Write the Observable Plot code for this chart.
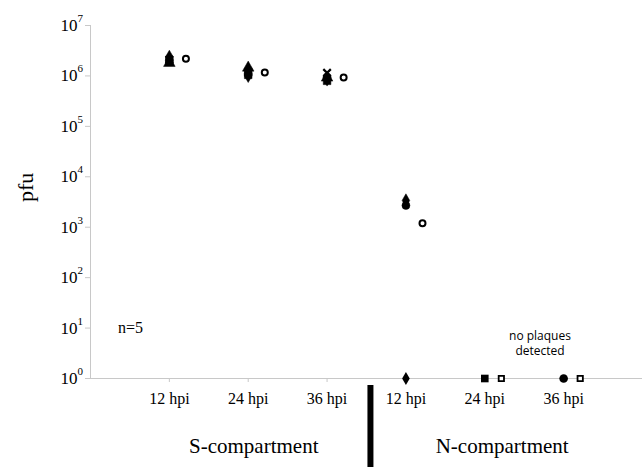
<!DOCTYPE html>
<html><head><meta charset="utf-8">
<script src="https://cdn.jsdelivr.net/npm/d3@7"></script>
<script src="https://cdn.jsdelivr.net/npm/@observablehq/plot@0.6"></script>
<style>body{margin:0;background:#fff}</style>
</head><body><div id="chart"></div>
<script>
// ---- data ----
const categories = ["12 hpi", "24 hpi", "36 hpi", "12 hpi", "24 hpi", "36 hpi"];
const groups = ["S-compartment", "N-compartment"];
// individual replicates (pfu)
const repDiamond  = [2.4e6, 1.0e6, 0.85e6, 3.4e3, null, null];
const repSquare   = [2.0e6, 1.05e6, 0.8e6, null, null, null];
const repTriangle = [1.8e6, 1.45e6, 0.92e6, null, null, null];
const repCross    = [2.1e6, 1.2e6, 1.15e6, null, null, null];
const repCircle   = [2.0e6, 1.1e6, 0.95e6, 2.7e3, null, null];
// replicates with no plaques detected, shown at the floor (1)
const notDetected = [null, null, null, 1, 1, 1];
// mean of the five replicates
const means = [2.2e6, 1.17e6, 0.93e6, 1.2e3, 1, 1];
const yExponents = [0, 1, 2, 3, 4, 5, 6, 7];
const yLabel = "pfu";
const nLabel = "n=5";
const annotation = "no plaques\ndetected";

// ---- layout ----
const serif = "Liberation Serif, serif";
const sans = "Open Sans, Noto Sans, sans-serif";
const slot = categories.map((c, i) => i + 1);
const groupCenter = [2.07, 5.22];
const ndSymbols = [null, null, null, "diamond", "square", "circle"];
const reps = [
  {symbol: "triangle", values: repTriangle, r: 4.3},
  {symbol: "diamond", values: repDiamond, r: 4},
  {symbol: "square", values: repSquare, r: 4.3},
  {symbol: "times", values: repCross, r: 3.5},
  {symbol: "circle", values: repCircle, r: 4}
];
const rowsOf = vals => vals.map((v, i) => v == null ? null : {x: slot[i], value: v, i}).filter(Boolean);
const meanRows = means.map((v, i) => ({x: slot[i] + 0.21, value: v}));
const ndRows = rowsOf(notDetected);

const txt = (data, opts) => Plot.text(data, {fontFamily: serif, fill: "black", ...opts});

const plot = Plot.plot({
  width: 642, height: 467,
  marginLeft: 90, marginRight: 0, marginTop: 25, marginBottom: 89,
  style: {fontFamily: serif, background: "white", color: "black", overflow: "visible"},
  x: {domain: [0, 7], axis: null},
  y: {type: "log", domain: [1, 1e7], axis: null},
  marks: [
    Plot.ruleX([0], {stroke: "#c8c8c8"}),
    Plot.ruleY([1], {stroke: "#c8c8c8"}),
    Plot.axisY({ticks: yExponents.map(e => 10 ** e), tickSize: 5, tickFormat: () => "", stroke: "#c8c8c8", label: null}),
    Plot.axisX({ticks: slot, tickSize: 4, tickFormat: () => "", stroke: "#c8c8c8", label: null}),
    txt(categories, {x: (d, i) => slot[i], y: 1, dy: 20, fontSize: 16}),
    txt(yExponents, {x: 0, y: e => 10 ** e, text: () => "10", textAnchor: "end", dx: -13, fontSize: 17}),
    txt(yExponents, {x: 0, y: e => 10 ** e, text: e => String(e), textAnchor: "start", dx: -13, dy: -7, fontSize: 11}),
    txt([yLabel], {frameAnchor: "left", dx: -65, rotate: -90, fontSize: 22}),
    txt(groups, {x: (d, i) => groupCenter[i], y: 1, dy: 68, fontSize: 21}),
    Plot.ruleX([3.55], {stroke: "black", strokeWidth: 6, insetTop: 360, insetBottom: -89}),
    txt([nLabel], {x: 0.35, y: 10, textAnchor: "start", fontSize: 16}),
    txt([annotation], {x: 5.7, y: 10 ** 0.71, fontFamily: sans, fontSize: 12, lineHeight: 1.3}),
    ...reps.map(r => Plot.dot(rowsOf(r.values), {
      x: "x", y: "value", symbol: r.symbol, r: r.r,
      fill: "black", stroke: "black", strokeWidth: r.symbol === "times" ? 2.2 : 0.5
    })),
    ...["diamond", "square", "circle"].map(s => Plot.dot(ndRows.filter(d => ndSymbols[d.i] === s), {
      x: "x", y: "value", symbol: s, r: s === "diamond" ? 4 : 4.3, fill: "black"
    })),
    Plot.dot(meanRows.filter(d => d.value > 1), {x: "x", y: "value", symbol: "circle", r: 3, fill: "white", stroke: "black", strokeWidth: 2}),
    Plot.dot(meanRows.filter(d => d.value <= 1), {x: "x", y: "value", symbol: "square", r: 3, fill: "white", stroke: "black", strokeWidth: 1.8})
  ]
});
document.getElementById("chart").append(plot);
</script>
</body></html>
